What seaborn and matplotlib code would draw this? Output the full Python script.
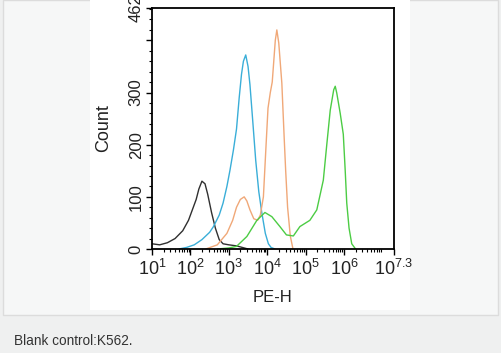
import numpy as np
import pandas as pd
import matplotlib
matplotlib.use("Agg")
import matplotlib.pyplot as plt
import seaborn as sns
from matplotlib.patches import Rectangle
from matplotlib.ticker import FixedLocator, MultipleLocator, LogLocator, NullFormatter

# ---- data (x as log10 of PE-H, y as count) ----
black_logx = [1.0, 1.2, 1.4, 1.6, 1.8, 1.95, 2.05, 2.15, 2.22, 2.3, 2.38, 2.45,
              2.55, 2.65, 2.75, 2.85, 3.0, 3.2, 3.35, 3.5]
black_count = [10, 8, 12, 20, 35, 55, 75, 95, 115, 130, 125, 105,
               70, 40, 18, 10, 8, 6, 3, 0]

blue_logx = [1.7, 1.9, 2.1, 2.3, 2.5, 2.6, 2.75, 2.85, 2.95, 3.03, 3.12, 3.2, 3.27,
             3.33, 3.38, 3.44, 3.5, 3.55, 3.62, 3.7, 3.78, 3.86, 3.95, 4.03, 4.1, 4.2]
blue_count = [0, 3, 8, 18, 32, 43, 65, 88, 120, 151, 190, 230, 290,
              335, 360, 372, 350, 315, 248, 170, 110, 69, 30, 10, 3, 0]

orange_logx = [2.4, 2.7, 2.95, 3.1, 3.2, 3.3, 3.4, 3.47, 3.55, 3.65, 3.75, 3.82, 3.9,
               3.97, 4.02, 4.08, 4.13, 4.17, 4.21, 4.25, 4.3, 4.38, 4.44, 4.48, 4.53,
               4.6, 4.67]
orange_count = [0, 8, 30, 55, 80, 95, 100, 92, 75, 58, 55, 65, 100,
                200, 270, 300, 320, 360, 400, 420, 395, 318, 215, 150, 80,
                25, 0]

green_logx = [2.7, 3.0, 3.2, 3.47, 3.73, 3.94, 4.12, 4.33, 4.5, 4.68, 4.85, 5.11,
              5.29, 5.46, 5.55, 5.64, 5.73, 5.77, 5.81, 5.9, 5.98, 6.03, 6.07,
              6.13, 6.2, 6.3]
green_count = [0, 2, 5, 24, 55, 70, 62, 43, 27, 25, 43, 55,
               75, 132, 200, 266, 305, 312, 299, 260, 220, 150, 88,
               40, 10, 0]

curve_colors = {"black": "#303030", "blue": "#3aaed8", "orange": "#f0a878", "green": "#4ccc44"}

x_tick_exps = [1, 2, 3, 4, 5, 6, 7.3]
y_tick_vals = [0, 100, 200, 300, 400, 462]
y_tick_text = ["0", "100", "200", "300", "", "462"]
caption = "Blank control:K562."

frames = []
for name, lx, cnt in [("black", black_logx, black_count), ("blue", blue_logx, blue_count),
                      ("orange", orange_logx, orange_count), ("green", green_logx, green_count)]:
    frames.append(pd.DataFrame({"PE-H": 10 ** np.array(lx), "Count": cnt, "sample": name}))
df = pd.concat(frames, ignore_index=True)

sns.set_style("white")
plt.rcParams["font.family"] = ["Liberation Sans", "DejaVu Sans"]
plt.rcParams["mathtext.fontset"] = "custom"
plt.rcParams["mathtext.rm"] = "Liberation Sans"

fig = plt.figure(figsize=(5.01, 3.53), dpi=100)
fig.patch.set_facecolor("#eff0f0")

# page-like background pieces
fig.add_artist(Rectangle((3 / 501, 1 - 315 / 353), 495 / 501, 315 / 353,
                         transform=fig.transFigure, facecolor="#f6f7f7",
                         edgecolor="#dcdcdc", linewidth=1, zorder=0))
fig.add_artist(Rectangle((90 / 501, 1 - 310 / 353), 320 / 501, 310 / 353,
                         transform=fig.transFigure, facecolor="white",
                         edgecolor="none", zorder=0))

ax = fig.add_axes([152 / 501, 1 - 249 / 353, 242 / 501, 241 / 353])
sns.lineplot(data=df, x="PE-H", y="Count", hue="sample", palette=curve_colors,
             estimator=None, sort=False, linewidth=1.0, legend=False, ax=ax)

ax.set_xscale("log")
ax.set_xlim(10 ** 1, 10 ** 7.3)
ax.set_ylim(0, 462)

ax.xaxis.set_major_locator(FixedLocator([10 ** e for e in x_tick_exps]))
ax.set_xticklabels([f"$\\mathregular{{10^{{{e:g}}}}}$" for e in x_tick_exps])
ax.xaxis.set_minor_locator(LogLocator(base=10, subs=np.arange(2, 10), numticks=20))
ax.xaxis.set_minor_formatter(NullFormatter())

ax.yaxis.set_major_locator(FixedLocator(y_tick_vals))
ax.set_yticklabels(y_tick_text, rotation=90, va="center")
ax.yaxis.set_minor_locator(MultipleLocator(20))

ax.tick_params(axis="both", which="major", direction="out", length=4, width=1,
               color="black", labelcolor="#222222", bottom=True, left=True)
ax.tick_params(axis="both", which="minor", direction="out", length=2, width=0.8,
               color="black", bottom=True, left=True)
ax.tick_params(axis="x", which="major", labelsize=13, pad=3)
ax.tick_params(axis="y", which="major", labelsize=12, pad=2)

for sp in ax.spines.values():
    sp.set_visible(True)
    sp.set_color("black")
    sp.set_linewidth(1.3)

ax.set_xlabel("PE-H", fontsize=12, color="#222222", labelpad=8)
ax.set_ylabel("Count", fontsize=13, color="#222222", labelpad=12)

fig.text(14 / 501, 1 - 341 / 353, caption, fontsize=9.8, color="#333333", va="center")

fig.savefig("out.png", dpi=100)
